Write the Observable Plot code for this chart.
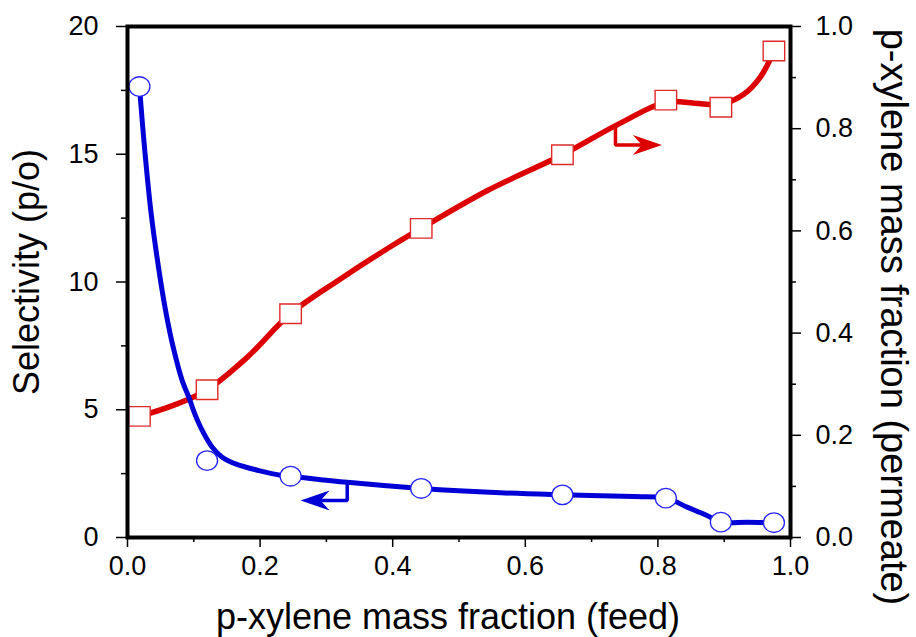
<!DOCTYPE html>
<html><head><meta charset="utf-8">
<script src="https://cdn.jsdelivr.net/npm/d3@7"></script>
<script src="https://cdn.jsdelivr.net/npm/@observablehq/plot@0.6"></script>
<style>body{margin:0;background:#fff}</style>
</head><body><div id="chart"></div>
<script>
// ---- data ----
const feedCircles = [0.018, 0.120, 0.246, 0.443, 0.656, 0.812, 0.895, 0.975];
const selectivity = [17.65, 3.01, 2.40, 1.92, 1.67, 1.54, 0.60, 0.58];

const feedSquares = [0.018, 0.120, 0.246, 0.443, 0.656, 0.812, 0.895, 0.975];
const permeateFrac = [0.237, 0.289, 0.438, 0.605, 0.749, 0.856, 0.842, 0.952];

// fitted (smoothed) curves as drawn
const selCurveX = [0.018, 0.0256, 0.0357, 0.0498, 0.0584, 0.0689, 0.0825, 0.0925, 0.1015, 0.1127, 0.1278, 0.1428, 0.1629, 0.198, 0.2333, 0.246, 0.3314, 0.4434, 0.5626, 0.656, 0.763, 0.8125, 0.844, 0.874, 0.895, 0.935, 0.975];
const selCurveY = [17.65, 15.28, 12.67, 10.06, 8.75, 7.45, 6.14, 5.49, 4.84, 4.19, 3.53, 3.14, 2.88, 2.62, 2.43, 2.40, 2.16, 1.92, 1.75, 1.67, 1.60, 1.54, 1.19, 0.86, 0.60, 0.60, 0.58];

const permCurveX = [0.018, 0.070, 0.120, 0.180, 0.246, 0.320, 0.399, 0.443, 0.543, 0.656, 0.739, 0.8125, 0.855, 0.8955, 0.930, 0.955, 0.975];
const permCurveY = [0.237, 0.259, 0.289, 0.352, 0.438, 0.505, 0.571, 0.605, 0.679, 0.749, 0.808, 0.852, 0.850, 0.848, 0.868, 0.902, 0.952];

// indicator arrows (L-shaped, pointing to the relevant axis)
const blueArrowX = [0.3314, 0.3314, 0.285];
const blueArrowY = [2.16, 1.45, 1.45];          // selectivity units
const redArrowX = [0.736, 0.736, 0.78];
const redArrowY = [0.806, 0.768, 0.768];        // permeate fraction units
const blueTip = {x: 0.261, y: 1.45};
const redTip = {x: 0.806, y: 0.768};

// ticks
const xMajor = [0, 0.2, 0.4, 0.6, 0.8, 1.0];
const xMinor = [0.1, 0.3, 0.5, 0.7, 0.9];
const leftMajor = [0, 5, 10, 15, 20];
const leftMinor = [2.5, 7.5, 12.5, 17.5];
const rightMajor = [0, 0.2, 0.4, 0.6, 0.8, 1.0];
const rightMinor = [0.1, 0.3, 0.5, 0.7, 0.9];

const xLabel = "p-xylene mass fraction (feed)";
const yLeftLabel = "Selectivity (p/o)";
const yRightLabel = "p-xylene mass fraction (permeate)";

// ---- build ----
const LEFT_MAX = 20, RIGHT_MAX = 1, K = LEFT_MAX / RIGHT_MAX;
const circles = feedCircles.map((x, i) => ({x, y: selectivity[i]}));
const squares = feedSquares.map((x, i) => ({x, y: permeateFrac[i]}));
const selCurve = selCurveX.map((x, i) => ({x, y: selCurveY[i]}));
const permCurve = permCurveX.map((x, i) => ({x, y: permCurveY[i]}));
const blueArrow = blueArrowX.map((x, i) => ({x, y: blueArrowY[i]}));
const redArrow = redArrowX.map((x, i) => ({x, y: redArrowY[i]}));

const BLUE = "#0000d6", RED = "#dc0000";
const FONT = "'Liberation Sans', Arial, Helvetica, sans-serif";

function ellipseSymbol(rx, ry) {
  const k = 0.5522847498;
  return {draw(c) {
    c.moveTo(rx, 0);
    c.bezierCurveTo(rx, ry * k, rx * k, ry, 0, ry);
    c.bezierCurveTo(-rx * k, ry, -rx, ry * k, -rx, 0);
    c.bezierCurveTo(-rx, -ry * k, -rx * k, -ry, 0, -ry);
    c.bezierCurveTo(rx * k, -ry, rx, -ry * k, rx, 0);
    c.closePath();
  }};
}
function rectSymbol(w, h) {
  return {draw(c) {
    c.moveTo(-w / 2, -h / 2); c.lineTo(w / 2, -h / 2); c.lineTo(w / 2, h / 2); c.lineTo(-w / 2, h / 2); c.closePath();
  }};
}
function arrowHead(dir) { // dir = -1 left, +1 right; origin at tip
  const L = 29, Wd = 10, N = 20;
  return {draw(c) {
    c.moveTo(0, 0); c.lineTo(-dir * L, -Wd); c.lineTo(-dir * N, 0); c.lineTo(-dir * L, Wd); c.closePath();
  }};
}

const chart = Plot.plot({
  width: 916, height: 637,
  marginLeft: 127, marginRight: 126, marginTop: 26, marginBottom: 100,
  x: {domain: [0, 1]},
  y: {domain: [0, LEFT_MAX]},
  style: {fontFamily: FONT, background: "white", color: "black", overflow: "visible"},
  marks: [
    // axes
    Plot.axisX({ticks: xMajor, tickSize: 10, tickPadding: 8, tickFormat: d3.format(".1f"), fontSize: 27, strokeWidth: 1.5, label: null}),
    Plot.axisX({ticks: xMinor, tickSize: 5, tickFormat: () => "", strokeWidth: 1.5, label: null}),
    Plot.axisY({ticks: leftMajor, tickSize: 11, tickPadding: 18, tickFormat: d => String(d), fontSize: 27, strokeWidth: 1.5, label: null}),
    Plot.axisY({ticks: leftMinor, tickSize: 6, tickFormat: () => "", strokeWidth: 1.5, label: null}),
    Plot.axisY({anchor: "right", ticks: rightMajor.map(v => v * K), tickSize: 10, tickPadding: 15, tickFormat: d => (d / K).toFixed(1), fontSize: 27, strokeWidth: 1.5, label: null}),
    Plot.axisY({anchor: "right", ticks: rightMinor.map(v => v * K), tickSize: 5, tickFormat: () => "", strokeWidth: 1.5, label: null}),
    // axis titles
    Plot.text([xLabel], {frameAnchor: "bottom", dx: -11, dy: 80, textAnchor: "middle", lineAnchor: "middle", fontSize: 36, text: d => d, fill: "black"}),
    Plot.text([yLeftLabel], {frameAnchor: "left", dx: -100, dy: -10, rotate: -90, textAnchor: "middle", lineAnchor: "middle", fontSize: 36, text: d => d, fill: "black"}),
    Plot.text([yRightLabel], {frameAnchor: "right", dx: 103, dy: 35, rotate: 90, textAnchor: "middle", lineAnchor: "middle", fontSize: 38, text: d => d, fill: "black"}),
    // curves
    Plot.line(permCurve, {x: "x", y: d => d.y * K, stroke: RED, strokeWidth: 5.5, curve: "catmull-rom"}),
    Plot.line(selCurve, {x: "x", y: "y", stroke: BLUE, strokeWidth: 5, curve: "catmull-rom"}),
    // indicator arrows
    Plot.line(blueArrow, {x: "x", y: "y", stroke: BLUE, strokeWidth: 3.5, strokeLinejoin: "miter"}),
    Plot.dot([blueTip], {x: "x", y: "y", symbol: arrowHead(-1), fill: BLUE, stroke: "none"}),
    Plot.line(redArrow, {x: "x", y: d => d.y * K, stroke: RED, strokeWidth: 3.5, strokeLinejoin: "miter"}),
    Plot.dot([redTip], {x: "x", y: d => d.y * K, symbol: arrowHead(1), fill: RED, stroke: "none"}),
    // markers
    Plot.dot(squares, {x: "x", y: d => d.y * K, symbol: rectSymbol(21.5, 19.5), fill: "white", stroke: "#e02a2a", strokeWidth: 1.4}),
    Plot.dot(circles, {x: "x", y: "y", symbol: ellipseSymbol(10.5, 9.8), fill: "white", stroke: "#2222ff", strokeWidth: 1.3}),
    Plot.frame({stroke: "black", strokeWidth: 4})
  ]
});
document.getElementById("chart").appendChild(chart);
</script>
</body></html>
